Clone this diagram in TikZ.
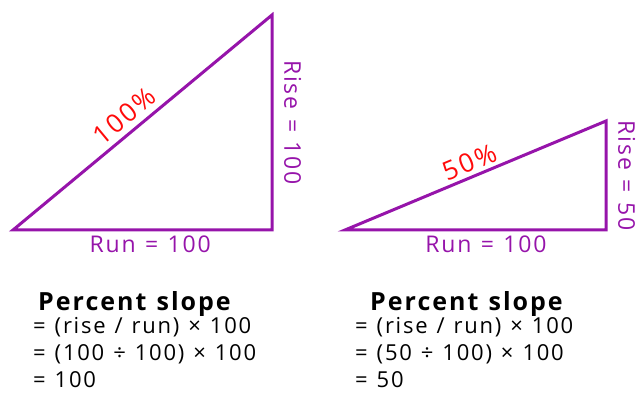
\documentclass[tikz,border=0pt]{standalone}
\usepackage{fontspec}
\setmainfont{Open Sans}[LetterSpace=8, WordSpace=1.2]
\usepackage{tikz}
\usetikzlibrary{positioning}

\definecolor{slopeline}{RGB}{150,20,170}
\definecolor{slopered}{RGB}{255,10,10}

\tikzset{
  side/.style={draw=slopeline, line width=3pt, line join=miter},
  sidelabel/.style={text=slopeline, font=\fontsize{23}{23}\selectfont, inner sep=1pt},
  pctlabel/.style={text=slopered, font=\fontsize{26}{26}\selectfont, inner sep=1pt},
  head/.style={font=\fontsize{25}{25}\selectfont\bfseries, inner sep=0pt},
  calc/.style={font=\fontsize{22}{27}\selectfont, align=left, inner sep=0pt}
}

\begin{document}
\begin{tikzpicture}[x=1pt, y=1pt]
  \useasboundingbox (0,0) rectangle (643,396);

  % 100% slope
  \coordinate (A) at (13,166);
  \coordinate (B) at (272,166);
  \coordinate (C) at (272,381);
  \draw[side] (A) -- (B) -- (C) -- cycle;
  \path (A) -- (C) node[pctlabel, sloped, above=6pt, pos=0.47] (pctA) {100\%};
  \path (B) -- (C) node[sidelabel, midway, rotate=-90, anchor=south, yshift=11pt] (riseA) {Rise = 100};
  \path (A) -- (B) node[sidelabel, pos=0.53, below=5pt] (runA) {Run = 100};

  % 50% slope
  \coordinate (D) at (345,166);
  \coordinate (E) at (606,166);
  \coordinate (F) at (606,275);
  \draw[side] (D) -- (E) -- (F) -- cycle;
  \path (D) -- (F) node[pctlabel, sloped, above=4pt, pos=0.5] (pctD) {50\%};
  \path (E) -- (F) node[sidelabel, midway, rotate=-90, anchor=south, yshift=11pt] (riseD) {Rise = 50};
  \path (D) -- (E) node[sidelabel, pos=0.54, below=5pt] (runD) {Run = 100};

  % formulas
  \node[head, anchor=north west] (headA) at (38,105) {Percent slope};
  \node[calc, anchor=north west] (calcA) at (33,79)
    {= (rise / run) × 100\\= (100 ÷ 100) × 100\\= 100};
  \node[head, anchor=north west] (headD) at (370,105) {Percent slope};
  \node[calc, anchor=north west] (calcD) at (355,79)
    {= (rise / run) × 100\\= (50 ÷ 100) × 100\\= 50};
\end{tikzpicture}
\end{document}
